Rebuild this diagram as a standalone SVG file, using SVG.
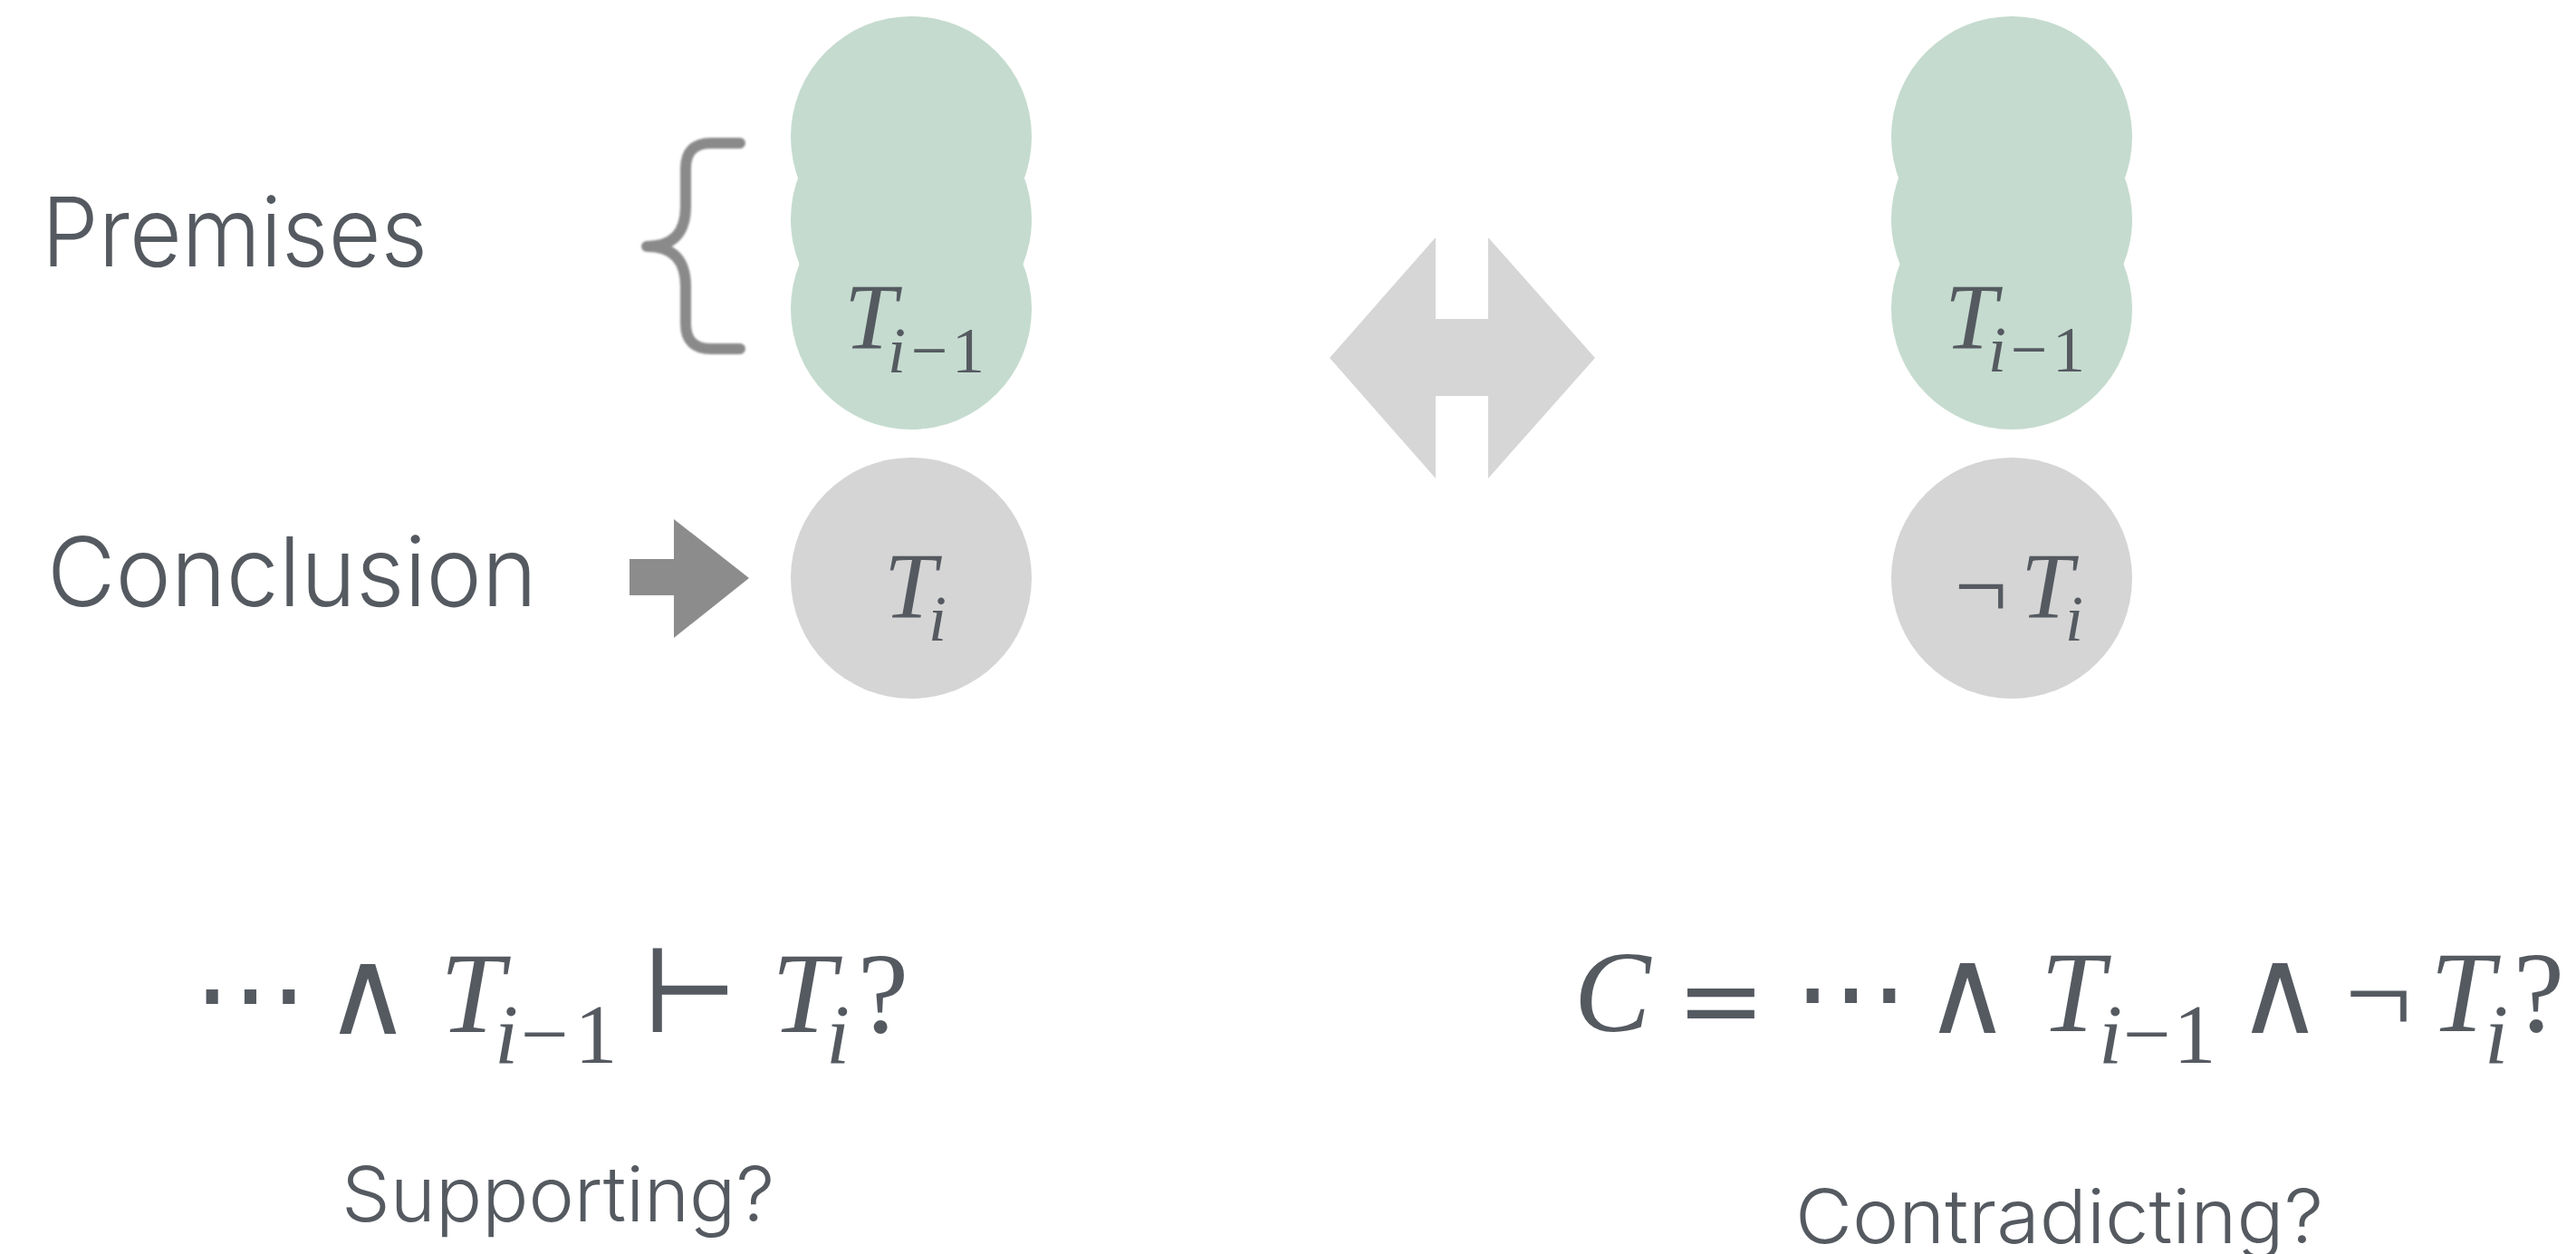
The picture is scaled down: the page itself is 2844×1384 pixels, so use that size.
<svg xmlns="http://www.w3.org/2000/svg" width="2844" height="1384" viewBox="0 0 2844 1384">
  <defs>
    <style>
      .lbl { font-family: Inter, "Noto Sans", "Liberation Sans", sans-serif; font-weight: 300; fill: #555a61; }
      .mi { font-family: "Liberation Serif", "DejaVu Serif", serif; font-style: italic; fill: #555a61; text-anchor: middle; }
      .mr { font-family: "Liberation Serif", "DejaVu Serif", serif; fill: #555a61; text-anchor: middle; }
      .ms { font-family: "DejaVu Serif", "Liberation Serif", serif; fill: #555a61; text-anchor: middle; }
      .premise { fill: #c5dbcf; }
      .concl { fill: #d5d5d5; }
    </style>
    <filter id="soft" x="-10%" y="-10%" width="120%" height="120%">
      <feGaussianBlur stdDeviation="0.8"/>
    </filter>
  </defs>
  <rect width="2844" height="1384" fill="#ffffff"/>

  <!-- side labels -->
  <g id="label-premises">
    <text class="lbl" x="46" y="294" font-size="106" textLength="426" lengthAdjust="spacingAndGlyphs">Premises</text>
  </g>
  <g id="label-conclusion">
    <text class="lbl" x="52" y="669" font-size="106" textLength="541" lengthAdjust="spacingAndGlyphs">Conclusion</text>
  </g>

  <!-- premises brace -->
  <g id="brace">
    <path d="M817,158 H785 Q757,158 757,186 V228 Q757,272 714,272 Q757,272 757,316 V357 Q757,385 785,385 H817" fill="none" stroke="#8a8a8a" stroke-width="12" stroke-linecap="round" stroke-linejoin="round" filter="url(#soft)"/>
  </g>

  <!-- left stack: premises -->
  <g id="premises-left">
    <circle class="premise" cx="1006" cy="151" r="133"/>
    <circle class="premise" cx="1006" cy="242" r="133"/>
    <circle class="premise" cx="1006" cy="341" r="133"/>
    <text class="mi" x="961" y="385" font-size="104">T</text>
    <text class="mi" x="990" y="411" font-size="72">i</text>
    <text class="mr" x="1026" y="411" font-size="72">−</text>
    <text class="mr" x="1069" y="411" font-size="72">1</text>
  </g>

  <!-- left conclusion -->
  <g id="conclusion-left">
    <circle class="concl" cx="1006" cy="638" r="133"/>
    <text class="mi" x="1005" y="682" font-size="104">T</text>
    <text class="mi" x="1035" y="707" font-size="72">i</text>
  </g>

  <!-- right stack: premises -->
  <g id="premises-right">
    <circle class="premise" cx="2221" cy="151" r="133"/>
    <circle class="premise" cx="2221" cy="242" r="133"/>
    <circle class="premise" cx="2221" cy="341" r="133"/>
    <text class="mi" x="2176" y="385" font-size="104">T</text>
    <text class="mi" x="2205" y="410" font-size="72">i</text>
    <text class="mr" x="2240" y="410" font-size="72">−</text>
    <text class="mr" x="2284" y="410" font-size="72">1</text>
  </g>

  <!-- right conclusion (negated) -->
  <g id="conclusion-right">
    <circle class="concl" cx="2221" cy="638" r="133"/>
    <text class="mr" x="2187" y="682" font-size="104">¬</text>
    <text class="mi" x="2260" y="682" font-size="104">T</text>
    <text class="mi" x="2290" y="707" font-size="72">i</text>
  </g>

  <!-- connectors -->
  <g id="connectors">
    <polygon points="695,617 744,617 744,573 827,638 744,704 744,657 695,657" fill="#8c8c8c"/>
    <polygon points="1468,395 1585,262 1585,352 1643,352 1643,262 1761,395 1643,528 1643,437 1585,437 1585,528" fill="#d6d6d6"/>
  </g>

  <!-- entailment formula -->
  <g id="formula-support">
    <text class="ms" x="276" y="1139" font-size="127">⋯</text>
    <text class="ms" x="406" y="1141" font-size="132">∧</text>
    <text class="mi" x="521" y="1139" font-size="127">T</text>
    <text class="mi" x="559" y="1173" font-size="94">i</text>
    <text class="mr" x="601" y="1173" font-size="94">−</text>
    <text class="mr" x="658" y="1173" font-size="94">1</text>
    <text class="ms" x="762" y="1139" font-size="127">⊢</text>
    <text class="mi" x="887" y="1139" font-size="127">T</text>
    <text class="mi" x="925" y="1173" font-size="94">i</text>
    <text class="mr" x="975" y="1139" font-size="127">?</text>
  </g>

  <!-- contradiction formula -->
  <g id="formula-contradict">
    <text class="mi" x="1780" y="1138" font-size="127">C</text>
    <text class="ms" x="1900" y="1145" font-size="118">=</text>
    <text class="ms" x="2043" y="1138" font-size="127">⋯</text>
    <text class="ms" x="2172" y="1140" font-size="132">∧</text>
    <text class="mi" x="2288" y="1138" font-size="127">T</text>
    <text class="mi" x="2330" y="1173" font-size="94">i</text>
    <text class="mr" x="2370" y="1173" font-size="94">−</text>
    <text class="mr" x="2423" y="1173" font-size="94">1</text>
    <text class="ms" x="2517" y="1140" font-size="132">∧</text>
    <text class="mr" x="2626" y="1140" font-size="132">¬</text>
    <text class="mi" x="2718" y="1138" font-size="127">T</text>
    <text class="mi" x="2756" y="1173" font-size="94">i</text>
    <text class="mr" x="2803" y="1138" font-size="127">?</text>
  </g>

  <!-- captions -->
  <g id="caption-support">
    <text class="lbl" x="377" y="1348" font-size="84" textLength="478" lengthAdjust="spacingAndGlyphs">Supporting?</text>
  </g>
  <g id="caption-contradict">
    <text class="lbl" x="1982" y="1372" font-size="83" textLength="583" lengthAdjust="spacingAndGlyphs">Contradicting?</text>
  </g>
</svg>
